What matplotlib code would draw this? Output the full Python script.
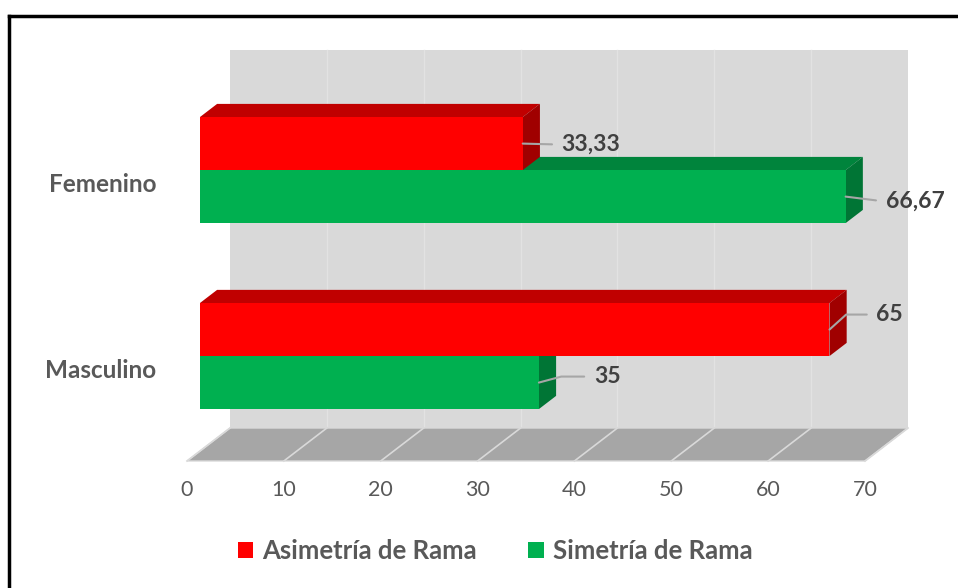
import matplotlib
matplotlib.use('Agg')
import matplotlib.pyplot as plt
from matplotlib.patches import Polygon, Patch
from matplotlib.lines import Line2D

# ---------------- data ----------------
categories = ['Masculino', 'Femenino']
series_names = ['Asimetría de Rama', 'Simetría de Rama']
asimetria = [65, 33.33]
simetria = [35, 66.67]
asimetria_labels = ['65', '33,33']
simetria_labels = ['35', '66,67']
xticks = [0, 10, 20, 30, 40, 50, 60, 70]

# ---------------- style ----------------
RED, RED_TOP, RED_SIDE = '#ff0000', '#c00000', '#a00000'
GREEN, GREEN_TOP, GREEN_SIDE = '#00b050', '#00843c', '#007535'
TXT = '#595959'
LBL = '#404040'
LEADER = '#a6a6a6'

plt.rcParams['font.family'] = ['Lato', 'DejaVu Sans']

fig = plt.figure(figsize=(9.58, 5.88), dpi=100)
ax = fig.add_axes([187/958, 127/588, 678/958, 411/588])

XMAX = xticks[-1]
Y_FLOOR, Y_TOP = -0.511, 1.699
DX, DY = 4.44, 0.1774       # full depth offset (data units)
D0, D1 = 0.3, 0.7           # bar depth span
H = 0.285                   # bar thickness

ax.set_xlim(0, XMAX)
ax.set_ylim(Y_FLOOR, Y_TOP)
for s in ax.spines.values():
    s.set_visible(False)
ax.patch.set_visible(False)

# back wall
ax.add_patch(Polygon([(DX, Y_FLOOR + DY), (XMAX + DX, Y_FLOOR + DY),
                      (XMAX + DX, Y_TOP), (DX, Y_TOP)],
                     closed=True, fc='#d9d9d9', ec='none', zorder=1, clip_on=False))
for t in xticks[1:-1]:
    ax.plot([t + DX, t + DX], [Y_FLOOR + DY, Y_TOP], color='#e2e2e2', lw=1,
            zorder=1.1, clip_on=False)

# floor
ax.add_patch(Polygon([(0, Y_FLOOR), (XMAX, Y_FLOOR), (XMAX + DX, Y_FLOOR + DY),
                      (DX, Y_FLOOR + DY)],
                     closed=True, fc='#a6a6a6', ec='#d9d9d9', lw=1, zorder=1.2,
                     clip_on=False))
for t in xticks:
    ax.plot([t, t + DX], [Y_FLOOR, Y_FLOOR + DY], color='#d9d9d9', lw=1.2,
            zorder=1.3, clip_on=False)


def bar3d(y0, y1, v, fc, tc, sc, z):
    x0 = D0 * DX
    yo = D0 * DY
    bx = (D1 - D0) * DX
    by = (D1 - D0) * DY
    front = [(x0, y0 + yo), (v + x0, y0 + yo), (v + x0, y1 + yo), (x0, y1 + yo)]
    top = [(x0, y1 + yo), (v + x0, y1 + yo), (v + x0 + bx, y1 + yo + by),
           (x0 + bx, y1 + yo + by)]
    side = [(v + x0, y0 + yo), (v + x0 + bx, y0 + yo + by),
            (v + x0 + bx, y1 + yo + by), (v + x0, y1 + yo)]
    for poly, c in ((top, tc), (side, sc), (front, fc)):
        ax.add_patch(Polygon(poly, closed=True, fc=c, ec='none', zorder=z,
                             clip_on=False))
    return (v + x0, (y0 + y1) / 2 + yo)


# label offsets in pixels and leader angle (layout only)
asim_off = [(47, 15, 42), (39, -1, None)]
sim_off = [(55, 6, 15), (40, -5, None)]

for i, cat in enumerate(categories):
    pg = bar3d(i - H, i, simetria[i], GREEN, GREEN_TOP, GREEN_SIDE, 2 + i)
    pr = bar3d(i, i + H, asimetria[i], RED, RED_TOP, RED_SIDE, 2.5 + i)
    for p, lab, off in ((pg, simetria_labels[i], sim_off[i]),
                        (pr, asimetria_labels[i], asim_off[i])):
        if off[2] is None:
            cs = 'arc3,rad=0'
        else:
            cs = 'angle,angleA=0,angleB=%d,rad=0' % off[2]
        ax.annotate(lab, xy=p, xytext=(off[0], off[1]), textcoords='offset pixels',
                    ha='left', va='center', fontsize=16.5, fontweight='bold',
                    color=LBL, zorder=10, annotation_clip=False,
                    arrowprops=dict(arrowstyle='-', color=LEADER, lw=1.5,
                                    shrinkA=5, shrinkB=0, relpos=(0, 0.5),
                                    connectionstyle=cs))

ax.set_xticks(xticks)
ax.set_xticklabels([str(t) for t in xticks])
ax.tick_params(axis='x', length=0, pad=14, labelsize=15.5, labelcolor=TXT)
ax.set_yticks([i - 0.015 for i in range(len(categories))])
ax.set_yticklabels(categories, fontsize=17.5, fontweight='bold', color=TXT)
ax.tick_params(axis='y', length=0, pad=22)

handles = [Patch(facecolor=RED, edgecolor='none'),
           Patch(facecolor=GREEN, edgecolor='none')]
leg = fig.legend(handles, series_names, loc='center',
                 bbox_to_anchor=(495/958, 1 - 551/588), ncol=2, frameon=False,
                 handlelength=0.6, handleheight=0.6, handletextpad=0.35,
                 columnspacing=2.0, prop={'size': 18.5, 'weight': 'bold'})
for t in leg.get_texts():
    t.set_color(TXT)

# chart border (left and top visible)
fig.add_artist(Line2D([9/958, 9/958], [0, 1 - 16/588], color='black', lw=2.5,
                      transform=fig.transFigure))
fig.add_artist(Line2D([9/958, 1], [1 - 16/588, 1 - 16/588], color='black', lw=2.5,
                      transform=fig.transFigure))

fig.savefig('out.png', dpi=100)
